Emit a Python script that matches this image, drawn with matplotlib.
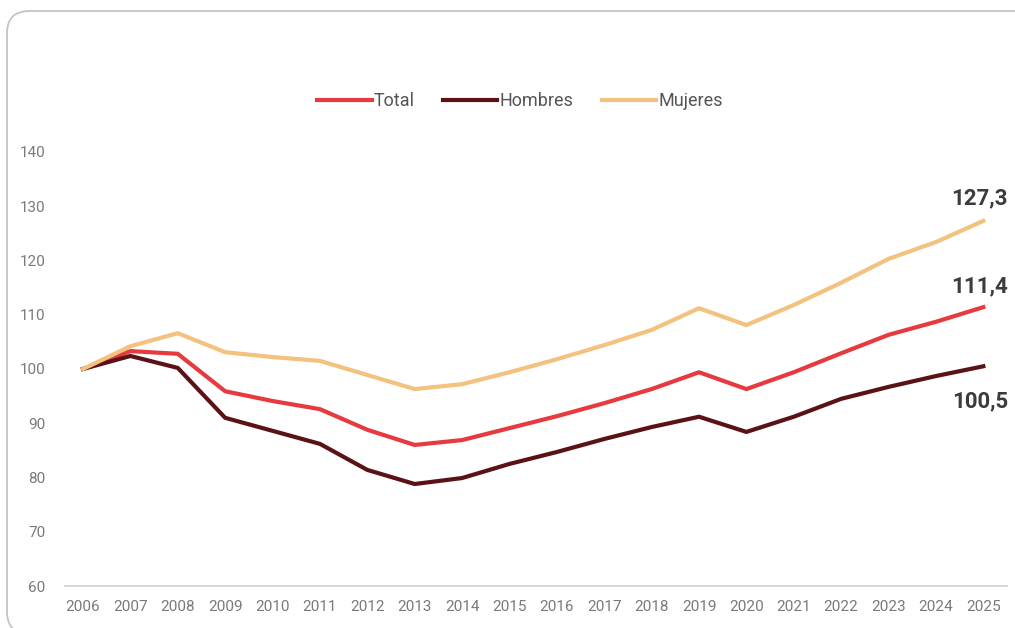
import matplotlib
matplotlib.use("Agg")
import matplotlib.pyplot as plt
from matplotlib.patches import FancyBboxPatch

years = list(range(2006, 2026))
total = [100, 103.3, 102.8, 95.9, 94.1, 92.6, 88.8, 86.0, 86.9, 89.1, 91.3, 93.7,
         96.3, 99.4, 96.3, 99.4, 102.9, 106.3, 108.7, 111.4]
hombres = [100, 102.4, 100.2, 91.0, 88.6, 86.2, 81.4, 78.8, 79.9, 82.5, 84.7, 87.1,
           89.3, 91.2, 88.4, 91.2, 94.5, 96.7, 98.7, 100.5]
mujeres = [100, 104.2, 106.6, 103.1, 102.2, 101.5, 98.9, 96.3, 97.2, 99.4, 101.8, 104.4,
           107.2, 111.2, 108.1, 111.8, 115.9, 120.3, 123.4, 127.3]
series_names = ["Total", "Hombres", "Mujeres"]
end_labels = ["111,4", "100,5", "127,3"]
y_ticks = [60, 70, 80, 90, 100, 110, 120, 130, 140]

colors = {"Total": "#e63a3f", "Hombres": "#5a1216", "Mujeres": "#f3c27e"}

plt.rcParams['font.family'] = ['Roboto', 'DejaVu Sans']

W, H = 1015, 628
fig = plt.figure(figsize=(W / 100, H / 100), dpi=100)

# card outline (extends past right and bottom edges)
x0, y0_top, x1, y1_bot = 7, 11, 1040, 634
card = FancyBboxPatch((x0 / W, 1 - y1_bot / H), (x1 - x0) / W, (y1_bot - y0_top) / H,
                      boxstyle="round,pad=0,rounding_size=0.022",
                      transform=fig.transFigure, facecolor="white",
                      edgecolor="#c4c4c4", linewidth=1.3, zorder=-5,
                      mutation_aspect=W / H)
fig.patches.append(card)

ax = fig.add_axes([65 / W, (H - 586) / H, (1007 - 65) / W, (586 - 152) / H])
ax.set_facecolor("none")
ax.set_zorder(2)

data = {"Total": total, "Hombres": hombres, "Mujeres": mujeres}
for name in series_names:
    ax.plot(years, data[name], color=colors[name], linewidth=3, label=name,
            solid_joinstyle="miter")

ax.set_xlim(2005.62, 2025.5)
ax.set_ylim(60, 140)
ax.set_yticks(y_ticks)
ax.set_xticks(years)
ax.set_xticklabels([str(y) for y in years])
ax.tick_params(axis="both", length=0, labelsize=11, labelcolor="#7a7a7a")
ax.tick_params(axis="y", pad=14)
ax.tick_params(axis="x", pad=10)
for s in ["top", "right", "left"]:
    ax.spines[s].set_visible(False)
ax.spines["bottom"].set_color("#d0d0d0")
ax.spines["bottom"].set_linewidth(1.2)

# end labels
lab_kw = dict(textcoords="offset points", ha="center", fontsize=16,
              fontweight="bold", color="#3c3c3c")
ax.annotate(end_labels[2], (years[-1], mujeres[-1]), xytext=(-3, 8),
            va="bottom", **lab_kw)
ax.annotate(end_labels[0], (years[-1], total[-1]), xytext=(-3, 7),
            va="bottom", **lab_kw)
ax.annotate(end_labels[1], (years[-1], hombres[-1]), xytext=(-2, -17),
            va="top", **lab_kw)

leg = fig.legend(loc="center", bbox_to_anchor=(520 / W, 1 - 101 / H), ncol=3,
                 frameon=False, fontsize=13, handlelength=3.0, handletextpad=0.1,
                 columnspacing=1.6)
for t in leg.get_texts():
    t.set_color("#555555")

fig.savefig("out.png", dpi=100)
